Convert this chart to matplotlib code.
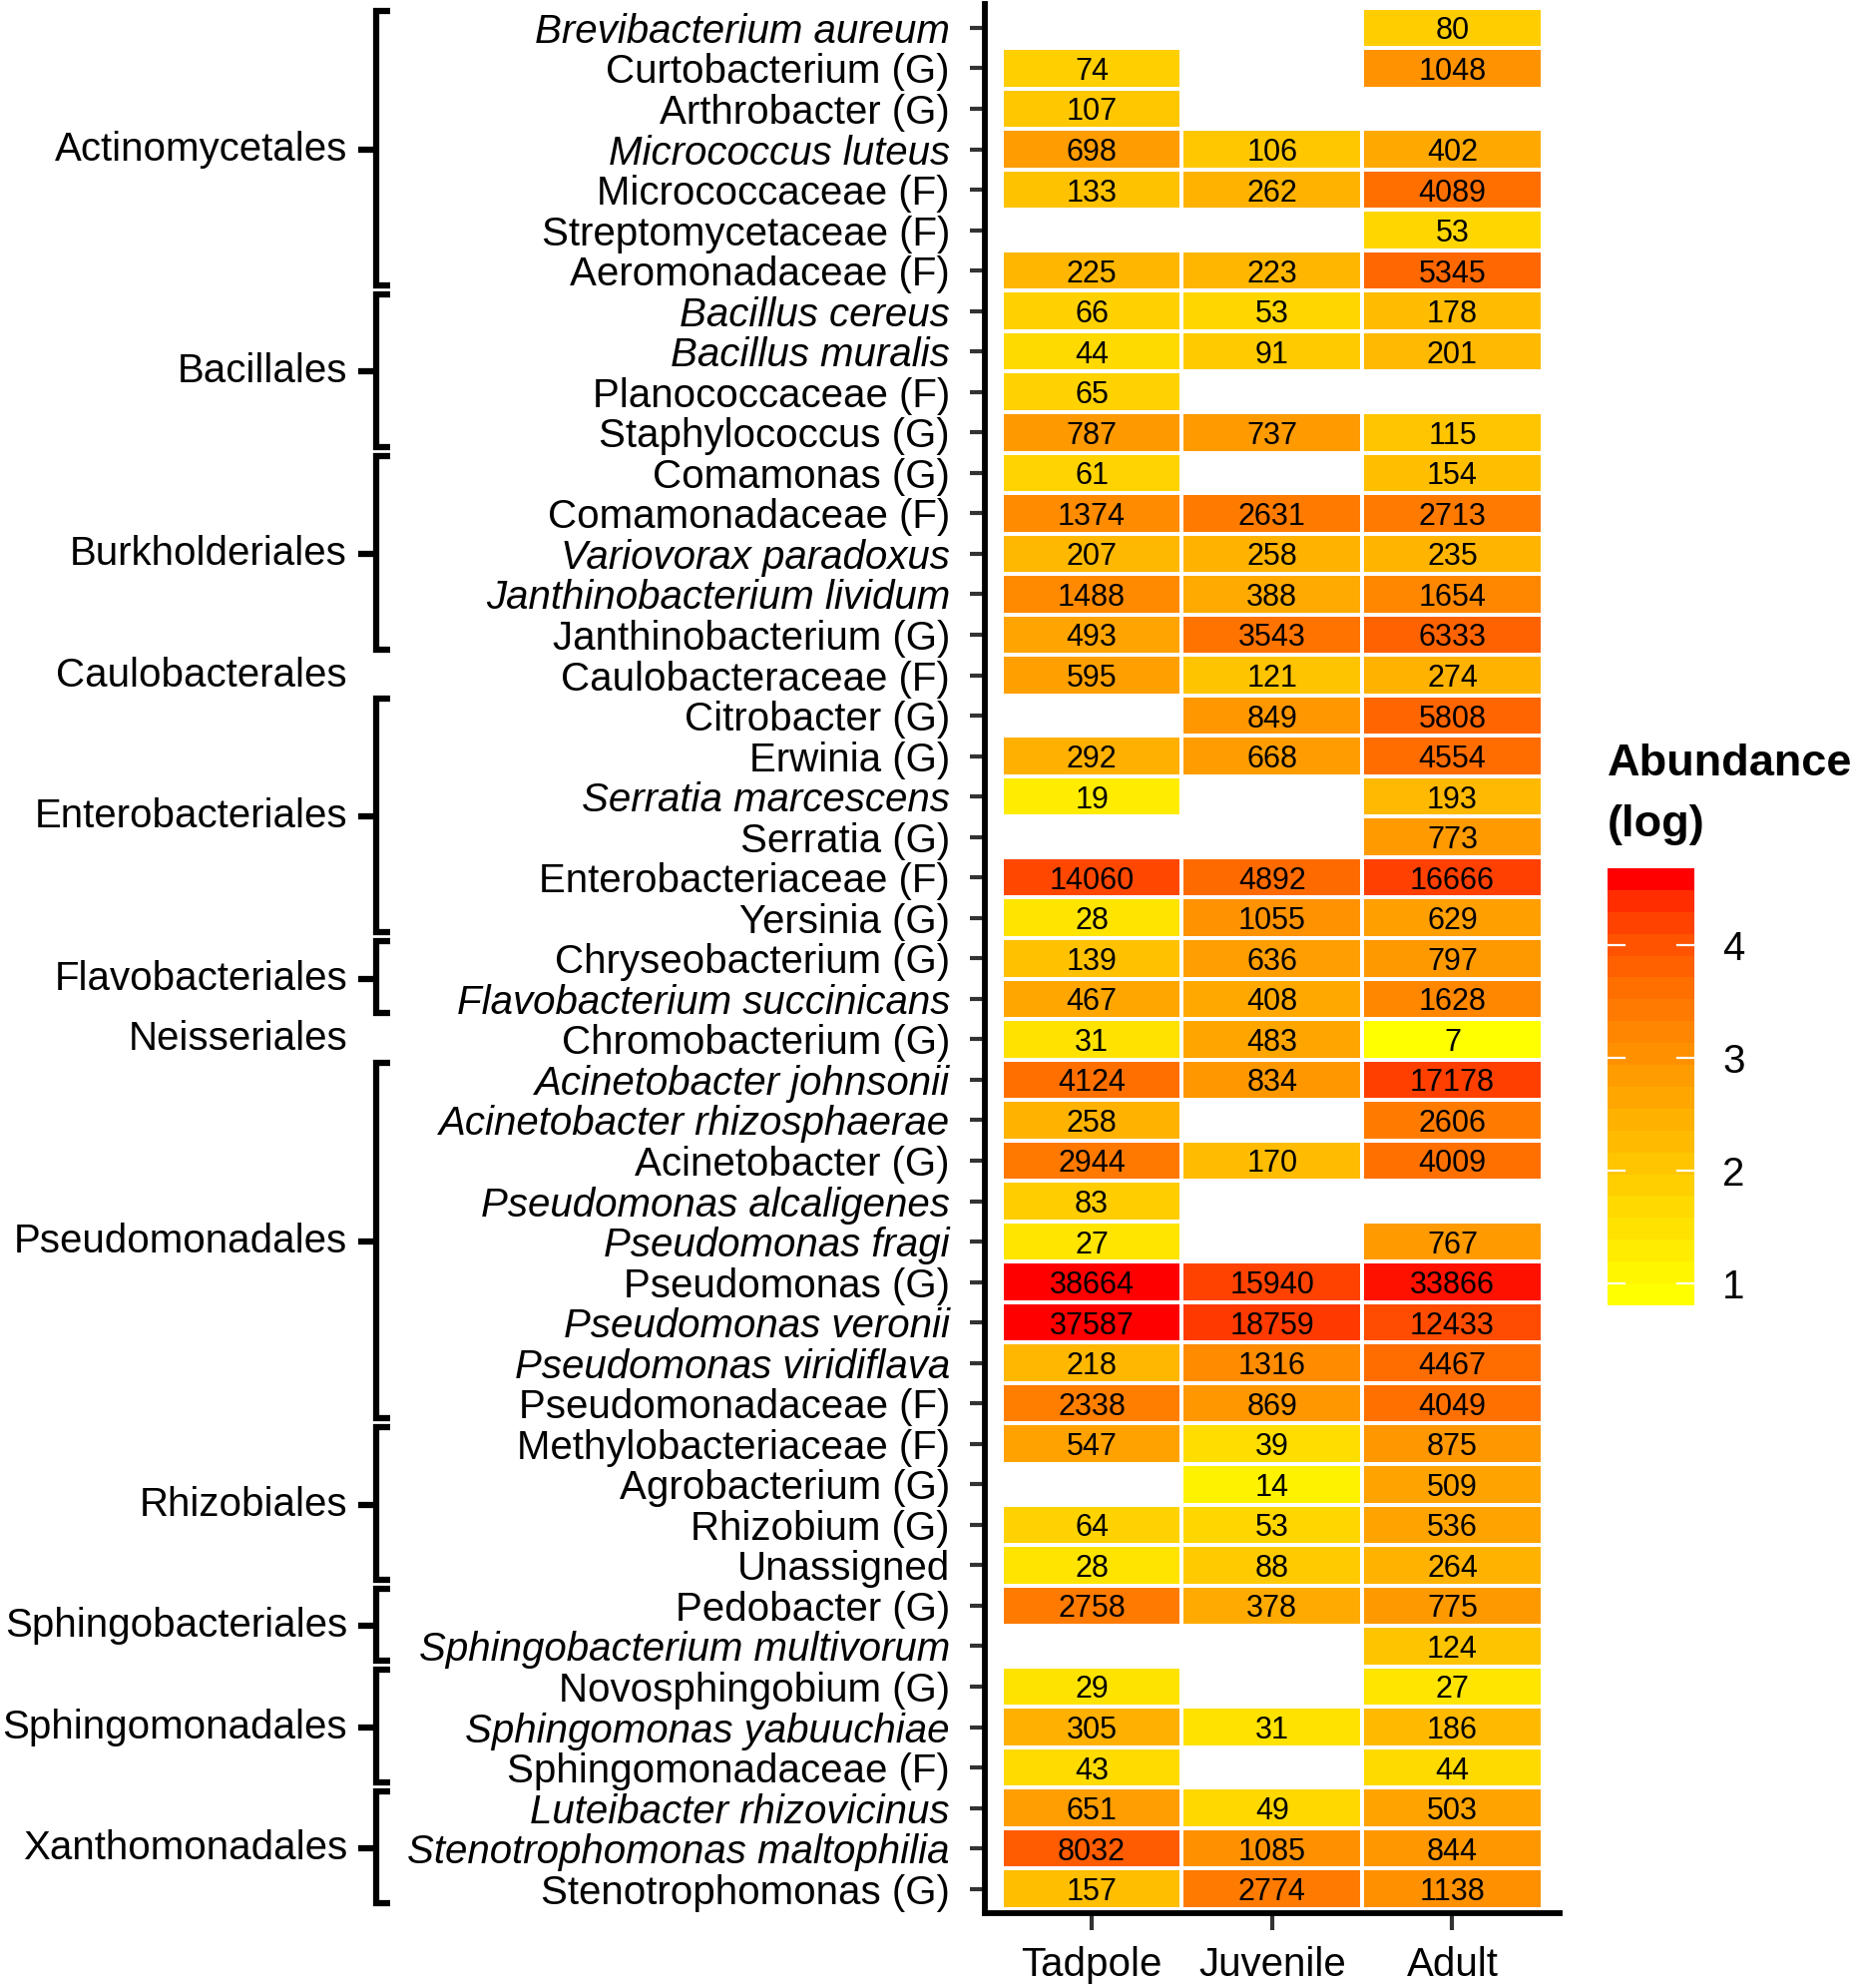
import numpy as np
import matplotlib
matplotlib.use("Agg")
import matplotlib.pyplot as plt
from matplotlib.colors import ListedColormap, Normalize
from matplotlib.lines import Line2D
import matplotlib.transforms as mtransforms

# ---------------- data ----------------
taxa = [
    "Brevibacterium aureum", "Curtobacterium (G)", "Arthrobacter (G)", "Micrococcus luteus",
    "Micrococcaceae (F)", "Streptomycetaceae (F)", "Aeromonadaceae (F)",
    "Bacillus cereus", "Bacillus muralis", "Planococcaceae (F)", "Staphylococcus (G)",
    "Comamonas (G)", "Comamonadaceae (F)", "Variovorax paradoxus", "Janthinobacterium lividum",
    "Janthinobacterium (G)",
    "Caulobacteraceae (F)",
    "Citrobacter (G)", "Erwinia (G)", "Serratia marcescens", "Serratia (G)",
    "Enterobacteriaceae (F)", "Yersinia (G)",
    "Chryseobacterium (G)", "Flavobacterium succinicans",
    "Chromobacterium (G)",
    "Acinetobacter johnsonii", "Acinetobacter rhizosphaerae", "Acinetobacter (G)",
    "Pseudomonas alcaligenes", "Pseudomonas fragi", "Pseudomonas (G)", "Pseudomonas veronii",
    "Pseudomonas viridiflava", "Pseudomonadaceae (F)",
    "Methylobacteriaceae (F)", "Agrobacterium (G)", "Rhizobium (G)", "Unassigned",
    "Pedobacter (G)", "Sphingobacterium multivorum",
    "Novosphingobium (G)", "Sphingomonas yabuuchiae", "Sphingomonadaceae (F)",
    "Luteibacter rhizovicinus", "Stenotrophomonas maltophilia", "Stenotrophomonas (G)",
]

stages = ["Tadpole", "Juvenile", "Adult"]

tadpole = [None, 74, 107, 698, 133, None, 225,
           66, 44, 65, 787,
           61, 1374, 207, 1488, 493,
           595,
           None, 292, 19, None, 14060, 28,
           139, 467,
           31,
           4124, 258, 2944, 83, 27, 38664, 37587, 218, 2338,
           547, None, 64, 28,
           2758, None,
           29, 305, 43,
           651, 8032, 157]

juvenile = [None, None, None, 106, 262, None, 223,
            53, 91, None, 737,
            None, 2631, 258, 388, 3543,
            121,
            849, 668, None, None, 4892, 1055,
            636, 408,
            483,
            834, None, 170, None, None, 15940, 18759, 1316, 869,
            39, 14, 53, 88,
            378, None,
            None, 31, None,
            49, 1085, 2774]

adult = [80, 1048, None, 402, 4089, 53, 5345,
         178, 201, None, 115,
         154, 2713, 235, 1654, 6333,
         274,
         5808, 4554, 193, 773, 16666, 629,
         797, 1628,
         7,
         17178, 2606, 4009, None, 767, 33866, 12433, 4467, 4049,
         875, 509, 536, 264,
         775, 124,
         27, 186, 44,
         503, 844, 1138]

orders = ["Actinomycetales", "Bacillales", "Burkholderiales", "Caulobacterales",
          "Enterobacteriales", "Flavobacteriales", "Neisseriales", "Pseudomonadales",
          "Rhizobiales", "Sphingobacteriales", "Sphingomonadales", "Xanthomonadales"]
order_counts = [7, 4, 5, 1, 6, 2, 1, 9, 4, 2, 3, 3]

colorbar_ticks = [1, 2, 3, 4]

# ---------------- colour scale (yellow -> red, Lab interpolation) ----------------
M = np.array([[0.4124564, 0.3575761, 0.1804375],
              [0.2126729, 0.7151522, 0.0721750],
              [0.0193339, 0.1191920, 0.9503041]])
WP = np.array([0.95047, 1.0, 1.08883])


def srgb2lab(c):
    c = np.asarray(c, float)
    lin = np.where(c <= 0.04045, c / 12.92, ((c + 0.055) / 1.055) ** 2.4)
    t = (M @ lin) / WP
    d = 6 / 29
    f = np.where(t > d ** 3, np.cbrt(t), t / (3 * d * d) + 4 / 29)
    return np.array([116 * f[1] - 16, 500 * (f[0] - f[1]), 200 * (f[1] - f[2])])


def lab2srgb(lab):
    L, a, b = lab
    fy = (L + 16) / 116
    fx = fy + a / 500
    fz = fy - b / 200
    d = 6 / 29
    f = np.array([fx, fy, fz])
    t = np.where(f > d, f ** 3, 3 * d * d * (f - 4 / 29))
    xyz = t * WP
    lin = np.linalg.solve(M, xyz)
    lin = np.clip(lin, 0, 1)
    c = np.where(lin <= 0.0031308, 12.92 * lin, 1.055 * lin ** (1 / 2.4) - 0.055)
    return np.clip(c, 0, 1)


lab_lo = srgb2lab([1, 1, 0])
lab_hi = srgb2lab([1, 0, 0])
cols = [lab2srgb((1 - t) * lab_lo + t * lab_hi) for t in np.linspace(0, 1, 256)]
cmap = ListedColormap(cols)

# ---------------- matrix ----------------
def to_arr(v):
    return np.array([np.nan if x is None else x for x in v], float)

counts = np.column_stack([to_arr(tadpole), to_arr(juvenile), to_arr(adult)])
fillv = np.log10(counts + 1)
vmin, vmax = np.nanmin(fillv), np.nanmax(fillv)
norm = Normalize(vmin=vmin, vmax=vmax)

nrow = len(taxa)
ncol = len(stages)

# ---------------- figure ----------------
plt.rcParams['font.family'] = ['Liberation Sans', 'DejaVu Sans']
W, H = 1862, 1992
fig = plt.figure(figsize=(W / 100, H / 100), dpi=100)

ax_left, ax_right = 986.6, 1563.0
ax_top, ax_bot = 3.6, 1917.0
ax = fig.add_axes([ax_left / W, 1 - ax_bot / H, (ax_right - ax_left) / W, (ax_bot - ax_top) / H])

masked = np.ma.masked_invalid(fillv)
ax.pcolormesh(np.arange(ncol + 1) - 0.5, np.arange(nrow + 1) - 0.5, masked,
              cmap=cmap, norm=norm, edgecolors='white', linewidth=1.6)

for i in range(nrow):
    for j in range(ncol):
        if not np.isnan(counts[i, j]):
            ax.text(j, i, f"{int(counts[i, j])}", ha='center', va='center_baseline',
                    fontsize=22, color='black')

ax.set_xlim(-0.595, ncol - 1 + 0.595)
ax.set_ylim(nrow - 1 + 0.6, -0.6)

ax.set_xticks(range(ncol))
ax.set_xticklabels(stages, fontsize=29)
ax.set_yticks(range(nrow))
ax.set_yticklabels(taxa, fontsize=29)
for lbl, name in zip(ax.get_yticklabels(), taxa):
    italic = not name.endswith(')') and name != 'Unassigned'
    lbl.set_fontstyle('italic' if italic else 'normal')

for s in ['top', 'right']:
    ax.spines[s].set_visible(False)
for s in ['left', 'bottom']:
    ax.spines[s].set_linewidth(4.2)
    ax.spines[s].set_color('black')
ax.tick_params(axis='y', length=11, width=3, color='#333333', pad=14)
ax.tick_params(axis='x', length=12, width=3, color='#333333', pad=12)

# ---------------- order brackets ----------------
trans = mtransforms.blended_transform_factory(fig.transFigure, ax.transData)
x_line = 376.7 / W
x_serif = 391.0 / W
x_dash = 359.0 / W
x_label = 348.0 / W
start = 0
for name, n in zip(orders, order_counts):
    first, last = start, start + n - 1
    mid = (first + last) / 2
    if n > 1:
        top, bot = first - 0.42, last + 0.36
        fig.add_artist(Line2D([x_serif, x_line, x_line, x_serif], [top, top, bot, bot],
                              transform=trans, color='black', linewidth=4.5,
                              solid_joinstyle='miter', solid_capstyle='butt', clip_on=False))
        fig.add_artist(Line2D([x_dash, x_line], [mid, mid], transform=trans, color='black',
                              linewidth=4.5, solid_capstyle='butt', clip_on=False))
    fig.text(x_label, mid, name, transform=trans, ha='right', va='center', fontsize=29)
    start += n

# ---------------- colour bar ----------------
nbin = 20
half = (vmax - vmin) / (nbin - 1) / 2
cb_lo, cb_hi = vmin - half, vmax + half
cb_left, cb_right = 1611.0, 1698.3
cb_top, cb_bot = 870.0, 1308.0
cax = fig.add_axes([cb_left / W, 1 - cb_bot / H, (cb_right - cb_left) / W, (cb_bot - cb_top) / H])
bin_vals = np.linspace(vmin, vmax, nbin)
edges = np.linspace(cb_lo, cb_hi, nbin + 1)
cax.pcolormesh([0, 1], edges, bin_vals.reshape(-1, 1), cmap=cmap, norm=norm,
               edgecolors='none', linewidth=0)
cax.set_xlim(0, 1)
cax.set_ylim(cb_lo, cb_hi)
for t in colorbar_ticks:
    cax.plot([0, 0.2], [t, t], color='white', linewidth=1.6)
    cax.plot([0.8, 1.0], [t, t], color='white', linewidth=1.6)
for s in cax.spines.values():
    s.set_visible(False)
cax.set_xticks([])
cax.set_yticks(colorbar_ticks)
cax.set_yticklabels([str(t) for t in colorbar_ticks], fontsize=29)
cax.tick_params(axis='y', left=False, right=True, labelleft=False, labelright=True,
                length=0, pad=20)

fig.text(1611 / W, 1 - 776.7 / H, "Abundance", fontsize=32.5, fontweight='bold',
         ha='left', va='baseline')
fig.text(1611 / W, 1 - 838.0 / H, "(log)", fontsize=32.5, fontweight='bold',
         ha='left', va='baseline')

fig.savefig("out.png", dpi=100, facecolor='white')
